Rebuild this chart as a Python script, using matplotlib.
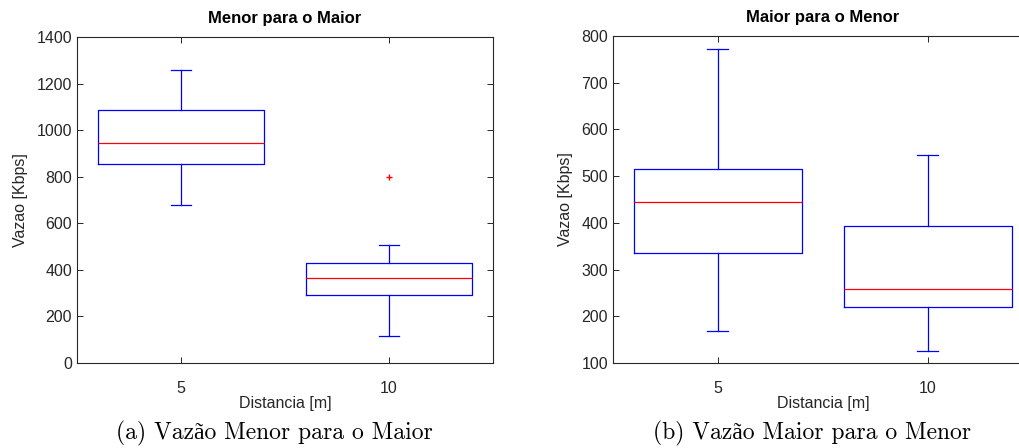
import matplotlib; matplotlib.use("Agg")
import matplotlib.pyplot as plt

# values (Kbps)
distances = ["5", "10"]
titles = ["Menor para o Maior", "Maior para o Menor"]
captions = ["(a) Vazão Menor para o Maior", "(b) Vazão Maior para o Menor"]
# menor -> maior
mm_q1 = [855, 292]; mm_med = [945, 365]; mm_q3 = [1086, 428]
mm_lo = [680, 116]; mm_hi = [1258, 507]; mm_fliers = [[], [800]]
# maior -> menor
MM_q1 = [335, 219]; MM_med = [445, 258]; MM_q3 = [515, 393]
MM_lo = [168, 125]; MM_hi = [772, 546]; MM_fliers = [[], []]
ylims = [(0, 1400), (100, 800)]

def stats(q1, med, q3, lo, hi, fl):
    return [dict(q1=a, med=b, q3=c, whislo=d, whishi=e, fliers=f, label=l)
            for a, b, c, d, e, f, l in zip(q1, med, q3, lo, hi, fl, distances)]

plt.rcParams["font.family"] = ["Liberation Sans", "DejaVu Sans"]
fig = plt.figure(figsize=(10.2, 4.48), dpi=100)
axes = [fig.add_axes([77/1020, 1-363/448, 416/1020, 326/448]),
        fig.add_axes([613/1020, 1-363/448, 420/1020, 327/448])]
data = [stats(mm_q1, mm_med, mm_q3, mm_lo, mm_hi, mm_fliers),
        stats(MM_q1, MM_med, MM_q3, MM_lo, MM_hi, MM_fliers)]
blue = "#0000ff"; red = "#ff0000"; dark = "#262626"
for ax, st, t, yl in zip(axes, data, titles, ylims):
    ax.bxp(st, widths=0.8, showfliers=True,
           boxprops=dict(color=blue, lw=0.9), whiskerprops=dict(color=blue, lw=0.9, ls="-"),
           capprops=dict(color=blue, lw=0.9), medianprops=dict(color=red, lw=0.9),
           flierprops=dict(marker="+", markeredgecolor=red, markersize=5, lw=0))
    ax.set_xlim(0.5, 2.5); ax.set_ylim(*yl)
    ax.tick_params(direction="in", top=True, right=True, labelsize=11.5, colors=dark, length=4, width=0.7)
    ax.tick_params(axis="x", pad=13)
    for s in ax.spines.values():
        s.set_color(dark); s.set_linewidth(0.8)
    ax.set_title(t, fontsize=12, fontweight="bold", pad=10)
    ax.set_ylabel("Vazao [Kbps]", fontsize=11.5, color=dark, labelpad=6)
    ax.set_xlabel("Distancia [m]", fontsize=11.5, color=dark, labelpad=0)
for cap, xc in zip(captions, [274, 812]):
    fig.text(xc/1020, 1-433/448, cap, ha="center", va="center", fontsize=17,
             family=["cmr10", "Liberation Serif", "DejaVu Serif"])
# short whisker caps, MATLAB look
for ax in axes:
    for ln in ax.get_lines():
        xd = ln.get_xdata(); yd = ln.get_ydata()
        if len(xd) == 2 and yd[0] == yd[1] and abs(xd[1]-xd[0]) < 0.5 and ln.get_color() == blue:
            m = (xd[0]+xd[1])/2; ln.set_xdata([m-0.05, m+0.05])
fig.savefig("out.png", dpi=100)
